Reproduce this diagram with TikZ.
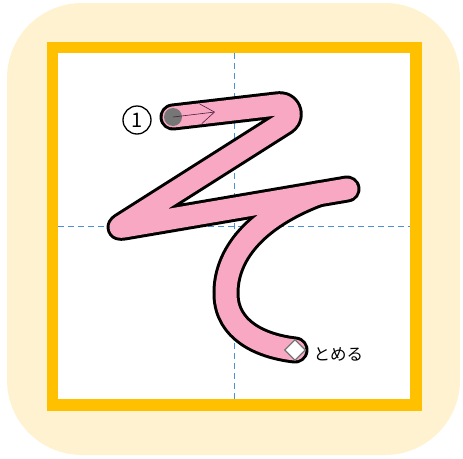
\documentclass[tikz,border=0pt]{standalone}
\usepackage{fontspec}
\usepackage{xcolor}
\usetikzlibrary{arrows.meta, positioning, shapes.geometric}
\newfontfamily\jpfont{Noto Sans CJK JP}
\definecolor{PaperCream}{RGB}{255,242,208}
\definecolor{FrameGold}{RGB}{255,192,0}
\definecolor{GuideBlue}{RGB}{74,144,217}
\definecolor{StrokePink}{RGB}{249,168,196}
\definecolor{StartGrey}{RGB}{118,118,118}
\definecolor{ArrowPlum}{RGB}{70,30,60}
\tikzset{
  guide/.style={GuideBlue, line width=1pt, dash pattern=on 6pt off 4pt},
  inkline/.style={black, line width=27pt, line cap=round, line join=round},
  inkfill/.style={StrokePink, line width=21pt, line cap=round, line join=round},
}

\begin{document}
\begin{tikzpicture}[x=1pt, y=-1pt]
        \useasboundingbox (0,0) rectangle (463,458);
        % paper and frame
        \fill[PaperCream, rounded corners=75pt] (7,3) rectangle (460,455);
        \draw[FrameGold, line width=11.5pt, fill=white] (52.5,47.5) rectangle (416,405);
        \draw[guide] (234,53) -- (234,399);
        \draw[guide] (58,226) -- (410,226);
        % stroke points
        \coordinate (s1) at (173,117);
        \coordinate (t1) at (278.8,104.7);
        \coordinate (t2) at (284.9,122.2);
        \coordinate (t3) at (125.6,223.2);
        \coordinate (s3) at (118,228);
        \coordinate (t4) at (126.9,226.5);
        \coordinate (s4) at (347,189);
        \coordinate (s5) at (318,194);
        \coordinate (s6) at (226,295);
        \coordinate (s7) at (295,350);
        \foreach \ink in {inkline, inkfill} {
          \draw[\ink] (s1) -- (t1) .. controls (288.8,103.5) and (293.4,116.8) .. (t2)
                      -- (t3) .. controls (s3) .. (t4) -- (s4);
          \draw[\ink] (s5) .. controls (255,218) and (225,255) .. (s6)
                           .. controls (227,330) and (260,346) .. (s7);
        }
        % start mark and direction
        \fill[StartGrey] (s1) circle[radius=9pt];
        \coordinate (tip) at (215,112);
        \draw[ArrowPlum, line width=0.6pt, -{Straight Barb[length=14pt, width=20pt]}] (s1) -- (tip);
        \node[diamond, draw=StartGrey, fill=white, line width=1.3pt, minimum size=21pt, inner sep=0pt] (stop) at (s7) {};
        \node[circle, draw, line width=1.3pt, minimum size=28pt, inner sep=0pt, font=\jpfont\fontsize{20}{20}\selectfont] (num) at (137,120) {1};
        \node[right=4pt of stop, yshift=-4pt, font=\jpfont\fontsize{16.5}{16.5}\selectfont] (tome) {とめる};
      \end{tikzpicture}
\end{document}
